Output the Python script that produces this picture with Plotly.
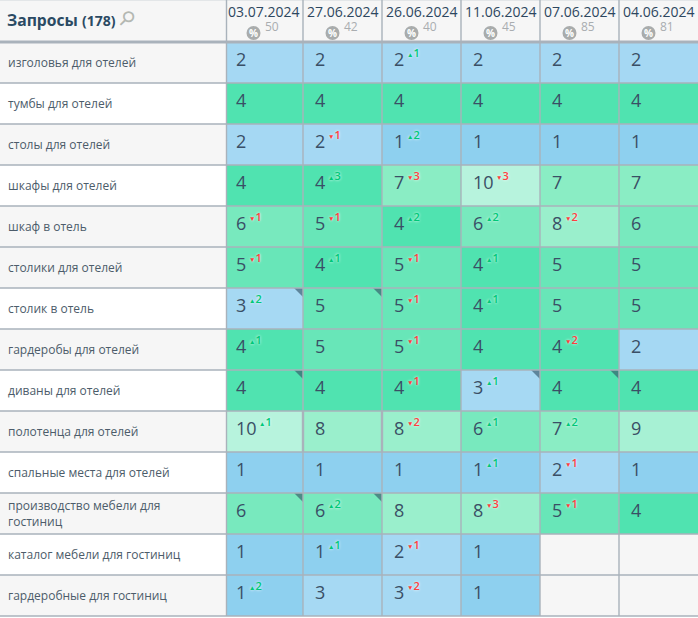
import plotly.graph_objects as go

# === Données ===
dates = ["03.07.2024", "27.06.2024", "26.06.2024", "11.06.2024", "07.06.2024", "04.06.2024"]
percents = [50, 42, 40, 45, 85, 81]

queries = [
    "изголовья для отелей",
    "тумбы для отелей",
    "столы для отелей",
    "шкафы для отелей",
    "шкаф в отель",
    "столики для отелей",
    "столик в отель",
    "гардеробы для отелей",
    "диваны для отелей",
    "полотенца для отелей",
    "спальные места для отелей",
    "производство мебели для<br>гостиниц",
    "каталог мебели для гостиниц",
    "гардеробные для гостиниц",
]

values = [
    [2, 2, 2, 2, 2, 2],
    [4, 4, 4, 4, 4, 4],
    [2, 2, 1, 1, 1, 1],
    [4, 4, 7, 10, 7, 7],
    [6, 5, 4, 6, 8, 6],
    [5, 4, 5, 4, 5, 5],
    [3, 5, 5, 4, 5, 5],
    [4, 5, 5, 4, 4, 2],
    [4, 4, 4, 3, 4, 4],
    [10, 8, 8, 6, 7, 9],
    [1, 1, 1, 1, 2, 1],
    [6, 6, 8, 8, 5, 4],
    [1, 1, 2, 1, None, None],
    [1, 3, 3, 1, None, None],
]

deltas = [
    [0, 0, 1, 0, 0, 0],
    [0, 0, 0, 0, 0, 0],
    [0, -1, 2, 0, 0, 0],
    [0, 3, -3, -3, 0, 0],
    [-1, -1, 2, 2, -2, 0],
    [-1, 1, -1, 1, 0, 0],
    [2, 0, -1, 1, 0, 0],
    [1, 0, -1, 0, -2, 0],
    [0, 0, -1, 1, 0, 0],
    [1, 0, -2, 1, 2, 0],
    [0, 0, 0, 1, -1, 0],
    [0, 2, 0, -3, -1, 0],
    [0, 1, -1, 0, 0, 0],
    [2, 0, -2, 0, 0, 0],
]

# cellules avec un petit coin sombre (ligne, colonne)
flagged = [(6, 0), (6, 1), (8, 0), (8, 3), (8, 4), (11, 0), (11, 1)]

# lignes blanches de la colonne des requêtes
white_rows = [1, 3, 6, 8, 10, 12]

# === Mise en page ===
W, H = 698, 618
COL_W, ROW_H = 79, 41
ROW0_CENTER = 62.5
LABEL_W = 226.5
FONT = "Open Sans"
LINE = "#a9b2bb"
DARK = "#2d4760"
GREEN = "#00c878"
RED = "#ff4040"

cell_colors = ["#8ed0ef", "#a5d8f3", "#a6d9f3", "#50e3b0", "#68e6b8",
               "#78e9be", "#8aedc4", "#9aefcc", "#a7f1d4", "#b7f3dd"]
colorscale = [[i / 9, c] for i, c in enumerate(cell_colors)]


def paper_x(px):
    return px / W


def paper_y(px):
    return 1 - px / H


fig = go.Figure(go.Heatmap(
    x=dates, y=queries, z=values,
    zmin=1, zmax=10, colorscale=colorscale,
    showscale=False, hoverinfo="skip",
))

shapes = []
annotations = []


def add_text(**kw):
    # ancres explicites, sinon plotly les choisit selon la position dans le papier
    kw.setdefault("xanchor", "center")
    kw.setdefault("yanchor", "middle")
    annotations.append(dict(showarrow=False, borderpad=0, **kw))


# fond de la colonne des requêtes et de l'en-tête
shapes.append(dict(type="rect", xref="paper", yref="paper", x0=0, x1=paper_x(LABEL_W),
                   y0=0, y1=1, fillcolor="#f6f6f6", line_width=0, layer="above"))
for r in white_rows:
    shapes.append(dict(type="rect", xref="paper", yref="y", x0=0, x1=paper_x(LABEL_W),
                       y0=r - 0.5, y1=r + 0.5, fillcolor="#ffffff", line_width=0, layer="above"))
shapes.append(dict(type="rect", xref="paper", yref="paper", x0=0, x1=1,
                   y0=0, y1=paper_y(616), fillcolor="#ffffff", line_width=0, layer="above"))

# coins sombres
for r, c in flagged:
    shapes.append(dict(type="path", xref="x", yref="y", xsizemode="pixel", ysizemode="pixel",
                       xanchor=c + 0.5, yanchor=r - 0.5, path="M -9 0 L 0 0 L 0 -9 Z",
                       fillcolor="rgba(50,80,100,0.62)", line_width=0, layer="above"))

# grille
for r in range(len(queries)):
    shapes.append(dict(type="line", xref="paper", yref="y", x0=0, x1=1, y0=r + 0.5, y1=r + 0.5,
                       line=dict(color=LINE, width=1.4), layer="above"))
shapes.append(dict(type="line", xref="paper", yref="y", x0=0, x1=1, y0=-0.5, y1=-0.5,
                   line=dict(color=LINE, width=3), layer="above"))
shapes.append(dict(type="line", xref="paper", yref="paper", x0=0, x1=1, y0=1, y1=1,
                   line=dict(color="#cfd5da", width=1), layer="above"))
shapes.append(dict(type="line", xref="paper", yref="paper", x0=paper_x(LABEL_W), x1=paper_x(LABEL_W),
                   y0=paper_y(616), y1=1, line=dict(color=LINE, width=1.4), layer="above"))
for c in range(len(dates) - 1):
    shapes.append(dict(type="line", xref="x", yref="paper", x0=c + 0.5, x1=c + 0.5,
                       y0=paper_y(616), y1=1, line=dict(color=LINE, width=1.4), layer="above"))

# traits plus épais sur la ligne "полотенца"
for c in [0, 1]:
    shapes.append(dict(type="line", xref="x", yref="y", x0=c + 0.5, x1=c + 0.5, y0=8.5, y1=9.5,
                       line=dict(color=LINE, width=2.4), layer="above"))

# titre
add_text(xref="paper", yref="paper", x=paper_x(6), y=paper_y(20), xanchor="left",
         text="<b>Запросы</b> <span style='font-size:14px'><b>(178)</b></span>",
         font=dict(family=FONT, size=15.7, color="#2b4a63"))
add_text(xref="paper", yref="paper", x=paper_x(127), y=paper_y(18),
         text="⚲", textangle=45, font=dict(family="DejaVu Sans", size=20, color="#b4b8b2"))

# en-têtes de colonnes
for c, (d, p) in enumerate(zip(dates, percents)):
    add_text(x=d, yref="paper", y=paper_y(12), text=d,
             font=dict(family=FONT, size=14, color=DARK))
    shapes.append(dict(type="circle", xref="x", yref="paper", xsizemode="pixel", ysizemode="pixel",
                       xanchor=c, yanchor=paper_y(33), x0=-17, x1=-3, y0=-7, y1=7,
                       fillcolor="#a9acac", line_width=0, layer="above"))
    add_text(x=d, yref="paper", y=paper_y(33), xshift=-10, text="<b>%</b>",
             font=dict(family=FONT, size=10, color="#ffffff"))
    add_text(x=d, yref="paper", y=paper_y(26), xanchor="left", text=str(p),
             font=dict(family=FONT, size=12, color="#a9adb0"))

# requêtes
for q in queries:
    add_text(xref="paper", x=paper_x(7), y=q, xanchor="left", align="left", text=q,
             font=dict(family=FONT, size=12, color="#4c5c6a"))

# positions et variations
for r, q in enumerate(queries):
    for c, d in enumerate(dates):
        v = values[r][c]
        if v is None:
            continue
        add_text(x=d, y=q, xshift=-29, yshift=4, xanchor="left", text=str(v),
                 font=dict(family=FONT, size=18, color="#3a4f66"))
        dv = deltas[r][c]
        if dv == 0:
            continue
        arrow = "▲" if dv > 0 else "▼"
        add_text(x=d, y=q, xshift=-29 + 13 + 10.3 * (len(str(v)) - 1), yshift=10, xanchor="left",
                 text=f"<span style='font-size:6.5px'>{arrow}</span>{abs(dv)}",
                 font=dict(family=FONT, size=11, weight=600,
                           color=GREEN if dv > 0 else RED,
                           shadow="0 0 3px #ffffff"))

right = len(dates) - 0.5
fig.update_layout(
    width=W, height=H,
    margin=dict(l=0, r=0, t=0, b=0),
    paper_bgcolor="#ffffff",
    plot_bgcolor="#f6f6f6",
    xaxis=dict(type="category", categoryorder="array", categoryarray=dates,
               range=[right - W / COL_W, right], visible=False),
    yaxis=dict(type="category", categoryorder="array", categoryarray=queries,
               range=[(H - ROW0_CENTER) / ROW_H, -ROW0_CENTER / ROW_H], visible=False),
    shapes=shapes,
    annotations=annotations,
    showlegend=False,
)

fig.write_html("out.html", config={"displayModeBar": False},
               post_script="document.body.style.margin='0';")
